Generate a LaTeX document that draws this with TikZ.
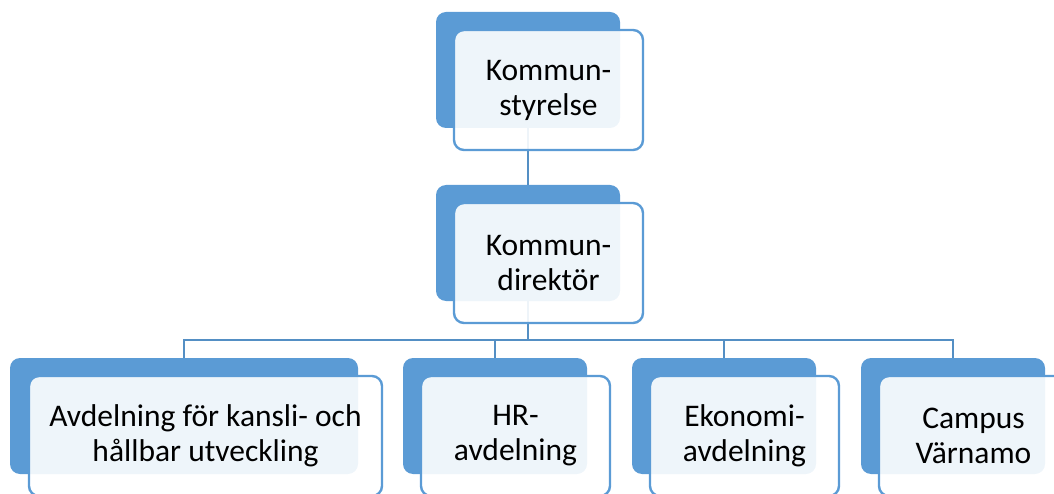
\documentclass[tikz,border=0pt]{standalone}
\usepackage{fontspec}
\setmainfont{Carlito}
\definecolor{smartblue}{HTML}{5B9BD5}

\begin{document}
\begin{tikzpicture}[x=1pt,y=-1pt,
  back/.style={fill=smartblue,rounded corners=10pt,minimum width=184pt,minimum height=116pt,inner sep=0pt},
  front/.style={draw=smartblue,line width=2.4pt,fill=white,fill opacity=0.9,text opacity=1,rounded corners=10pt,
    minimum width=189pt,minimum height=120pt,inner sep=0pt,align=center,font=\fontsize{31.5}{35}\selectfont},
  link/.style={draw=smartblue!92!black,line width=2.8pt}]
  \useasboundingbox (0,0) rectangle (1054,494);

  % back boxes
  \node [back] (ksb) at (528,70) {};
  \node [back] (kdb) at (528,243) {};
  \node [back, minimum width=348pt] (avb) at (184,416) {};
  \node [back] (hrb) at (495,416) {};
  \node [back] (ekb) at (724,416) {};
  \node [back] (cab) at (953,416) {};

  % connectors
  \coordinate (bus) at (528,340);
  \path [link] (ksb.south) -- (kdb.north);
  \path [link] (kdb.south) -- (bus);
  \path [link] (bus) -| (avb.north);
  \path [link] (bus) -| (hrb.north);
  \path [link] (bus) -| (ekb.north);
  \path [link] (bus) -| (cab.north);

  % front boxes
  \node [front] (ks) at ([shift={(20.5,20)}]ksb.center) {Kommun-\\styrelse};
  \node [front] (kd) at ([shift={(20.5,20)}]kdb.center) {Kommun-\\direktör};
  \node [front, minimum width=353pt] (av) at ([shift={(21.5,20)}]avb.center) {Avdelning för kansli- och\\hållbar utveckling};
  \node [front] (hr) at ([shift={(20.5,20)}]hrb.center) {HR-\\avdelning};
  \node [front] (ek) at ([shift={(20.5,20)}]ekb.center) {Ekonomi-\\avdelning};
  \node [front] (ca) at ([shift={(20.5,20)}]cab.center) {Campus\\Värnamo};

\end{tikzpicture}
\end{document}
